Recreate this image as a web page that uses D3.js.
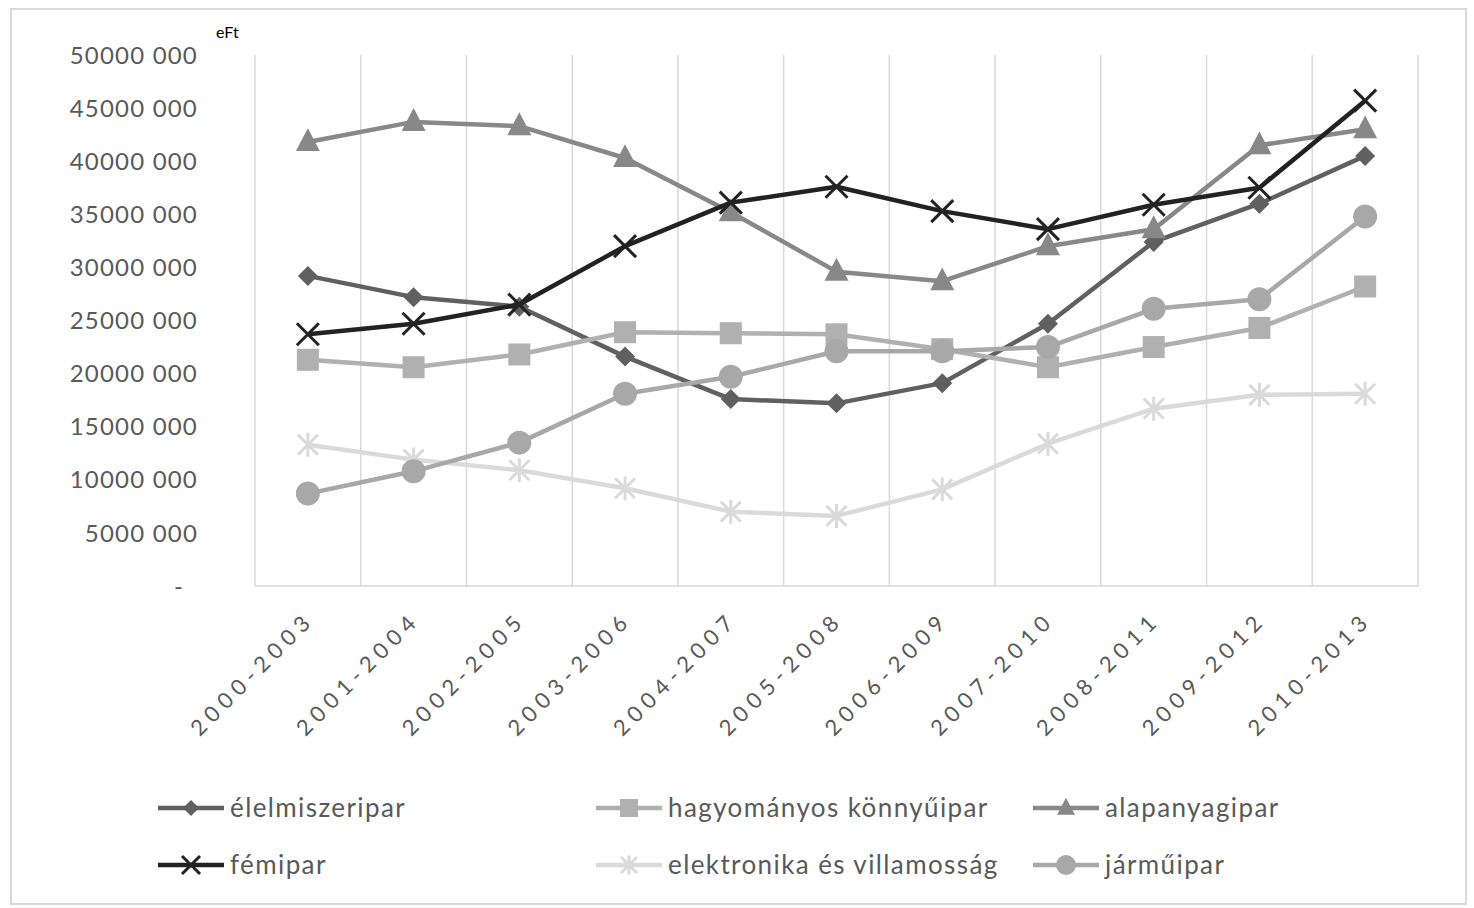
<!DOCTYPE html>
<meta charset="utf-8">
<style>
body { margin: 0; background: #fff; }
text { font-family: Lato, "Open Sans", sans-serif; }
</style>
<body>
<script src="https://cdnjs.cloudflare.com/ajax/libs/d3/7.8.5/d3.min.js"></script>
<script>

// categories (x axis)
var categories = ["2000-2003", "2001-2004", "2002-2005", "2003-2006", "2004-2007", "2005-2008",
                  "2006-2009", "2007-2010", "2008-2011", "2009-2012", "2010-2013"];

// series values (eFt)
var elelmiszeripar = [29200000, 27200000, 26300000, 21600000, 17600000, 17200000, 19100000, 24700000, 32400000, 36000000, 40500000];
var hagyomanyos    = [21300000, 20600000, 21800000, 23900000, 23800000, 23700000, 22300000, 20600000, 22500000, 24300000, 28200000];
var alapanyagipar  = [41800000, 43700000, 43300000, 40300000, 35200000, 29600000, 28700000, 32000000, 33600000, 41500000, 43000000];
var femipar        = [23700000, 24700000, 26500000, 32000000, 36100000, 37600000, 35300000, 33600000, 35900000, 37500000, 45700000];
var elektronika    = [13300000, 11900000, 10900000, 9200000, 7000000, 6600000, 9100000, 13400000, 16700000, 18000000, 18100000];
var jarmuipar      = [8700000, 10800000, 13500000, 18100000, 19700000, 22100000, 22100000, 22500000, 26100000, 27000000, 34800000];

var seriesNames = ["élelmiszeripar", "hagyományos könnyűipar", "alapanyagipar",
                   "fémipar", "elektronika és villamosság", "járműipar"];

// y tick values and labels
var yTicks = [0, 5000000, 10000000, 15000000, 20000000, 25000000, 30000000, 35000000, 40000000, 45000000, 50000000];
var yTickLabels = ["-", "5000 000", "10000 000", "15000 000", "20000 000", "25000 000",
                   "30000 000", "35000 000", "40000 000", "45000 000", "50000 000"];

var series = [
  {name: seriesNames[0], values: elelmiszeripar, color: "#606060", marker: "diamond"},
  {name: seriesNames[1], values: hagyomanyos,    color: "#b0b0b0", marker: "square"},
  {name: seriesNames[2], values: alapanyagipar,  color: "#888888", marker: "triangle"},
  {name: seriesNames[3], values: femipar,        color: "#222222", marker: "x"},
  {name: seriesNames[4], values: elektronika,    color: "#dadada", marker: "star"},
  {name: seriesNames[5], values: jarmuipar,      color: "#a8a8a8", marker: "circle"}
];

var width = 1474, height = 908;
var plotLeft = 255, plotRight = 1418, plotTop = 55, plotBottom = 586;

var svg = d3.select("body").append("svg")
  .attr("width", width)
  .attr("height", height);

// outer frame
svg.append("rect")
  .attr("x", 11).attr("y", 9)
  .attr("width", 1455).attr("height", 895)
  .attr("fill", "none")
  .attr("stroke", "#d9d9d9")
  .attr("stroke-width", 2);

var x = d3.scaleBand().domain(categories).range([plotLeft, plotRight]);
var y = d3.scaleLinear().domain([0, 50000000]).range([plotBottom, plotTop]);
function cx(c) { return x(c) + x.bandwidth() / 2; }

// vertical gridlines at category borders
var borders = categories.map(function(c) { return x(c); }).concat([plotRight]);
svg.selectAll(".grid")
  .data(borders)
  .enter().append("line")
  .attr("class", "grid")
  .attr("x1", function(d) { return d; })
  .attr("x2", function(d) { return d; })
  .attr("y1", y(50000000))
  .attr("y2", y(0))
  .attr("stroke", "#d9d9d9")
  .attr("stroke-width", 1.5);

svg.append("line")
  .attr("x1", plotLeft).attr("x2", plotRight)
  .attr("y1", y(0)).attr("y2", y(0))
  .attr("stroke", "#d9d9d9")
  .attr("stroke-width", 1.5);

// y axis labels
svg.selectAll(".ylab")
  .data(yTicks)
  .enter().append("text")
  .attr("class", "ylab")
  .attr("x", function(d) { return d === 0 ? 184 : 198; })
  .attr("y", function(d) { return y(d); })
  .attr("dy", "0.36em")
  .attr("text-anchor", "end")
  .attr("fill", "#595959")
  .style("font-size", "24px")
  .style("letter-spacing", "1.2px")
  .text(function(d, i) { return yTickLabels[i]; });

svg.append("text")
  .attr("x", 216).attr("y", 38)
  .attr("fill", "#000")
  .style("font-size", "16px")
  .text("eFt");

// x axis labels, rotated
svg.selectAll(".xlab")
  .data(categories)
  .enter().append("text")
  .attr("class", "xlab")
  .attr("transform", function(d) { return "translate(" + (cx(d) + 8) + ",621) rotate(-45)"; })
  .attr("text-anchor", "end")
  .attr("fill", "#595959")
  .style("font-size", "22px")
  .style("letter-spacing", "6px")
  .text(function(d) { return d; });

// marker drawing
function drawMarker(g, type, px, py, s, color) {
  if (type === "diamond") {
    g.append("path")
      .attr("d", "M" + px + "," + (py - s) + "L" + (px + s) + "," + py + "L" + px + "," + (py + s) + "L" + (px - s) + "," + py + "Z")
      .attr("fill", color);
  } else if (type === "square") {
    g.append("rect")
      .attr("x", px - s).attr("y", py - s)
      .attr("width", 2 * s).attr("height", 2 * s)
      .attr("fill", color);
  } else if (type === "triangle") {
    g.append("path")
      .attr("d", "M" + px + "," + (py - s * 1.15) + "L" + (px + s) + "," + (py + s * 0.75) + "L" + (px - s) + "," + (py + s * 0.75) + "Z")
      .attr("fill", color);
  } else if (type === "circle") {
    g.append("circle")
      .attr("cx", px).attr("cy", py).attr("r", s)
      .attr("fill", color);
  } else if (type === "x") {
    g.append("path")
      .attr("d", "M" + (px - s) + "," + (py - s) + "L" + (px + s) + "," + (py + s) + "M" + (px + s) + "," + (py - s) + "L" + (px - s) + "," + (py + s))
      .attr("stroke", color).attr("stroke-width", 3).attr("fill", "none");
  } else if (type === "star") {
    g.append("path")
      .attr("d", "M" + (px - s) + "," + (py - s) + "L" + (px + s) + "," + (py + s) + "M" + (px + s) + "," + (py - s) + "L" + (px - s) + "," + (py + s) +
                 "M" + px + "," + (py - s * 1.2) + "L" + px + "," + (py + s * 1.2))
      .attr("stroke", color).attr("stroke-width", 3).attr("fill", "none");
  }
}

var markerSize = {diamond: 10, square: 11, triangle: 12, circle: 12, x: 11, star: 10};

var line = d3.line()
  .x(function(d, i) { return cx(categories[i]); })
  .y(function(d) { return y(d); });

series.forEach(function(s) {
  var g = svg.append("g");
  g.append("path")
    .attr("d", line(s.values))
    .attr("fill", "none")
    .attr("stroke", s.color)
    .attr("stroke-width", 4.5)
    .attr("stroke-linejoin", "round");
  s.values.forEach(function(v, i) {
    drawMarker(g, s.marker, cx(categories[i]), y(v), markerSize[s.marker], s.color);
  });
});

// legend
var legendPos = [
  {x: 158, y: 808}, {x: 596, y: 808}, {x: 1033, y: 808},
  {x: 158, y: 865}, {x: 596, y: 865}, {x: 1033, y: 865}
];
var legendMarkerSize = {diamond: 8, square: 9, triangle: 9, circle: 10, x: 9, star: 8};

series.forEach(function(s, i) {
  var p = legendPos[i];
  var g = svg.append("g");
  g.append("line")
    .attr("x1", p.x).attr("x2", p.x + 66)
    .attr("y1", p.y).attr("y2", p.y)
    .attr("stroke", s.color)
    .attr("stroke-width", 4.5);
  drawMarker(g, s.marker, p.x + 33, p.y, legendMarkerSize[s.marker], s.color);
  g.append("text")
    .attr("x", p.x + 72)
    .attr("y", p.y)
    .attr("dy", "0.36em")
    .attr("fill", "#595959")
    .style("font-size", "26px")
    .style("letter-spacing", "1.4px")
    .text(s.name);
});

</script>
</body>
